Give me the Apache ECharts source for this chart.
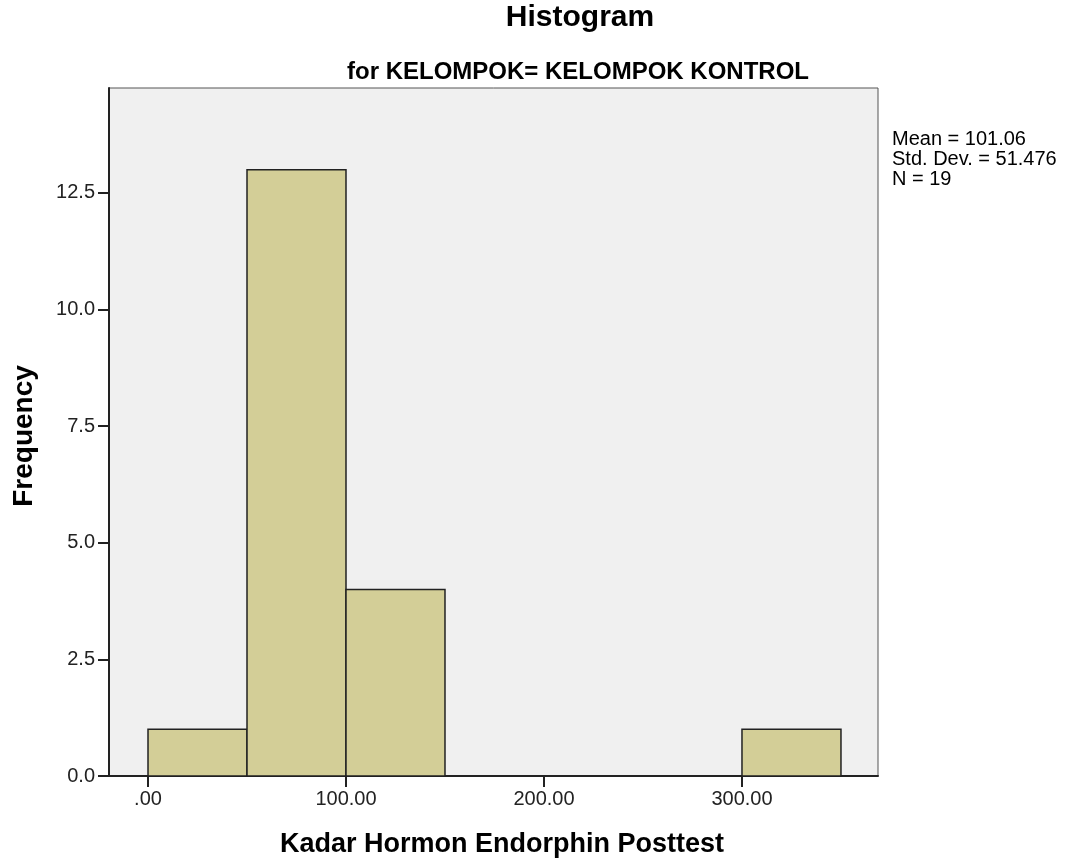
<!DOCTYPE html>
<html>
<head>
<meta charset="utf-8">
<script src="https://cdn.jsdelivr.net/npm/echarts@6/dist/echarts.min.js"></script>
<style>html,body{margin:0;padding:0;background:#fff}#c{width:1072px;height:861px}</style>
</head>
<body>
<div id="c"></div>
<script>
var binStarts = [0, 50, 100, 300];
var binEnds = [50, 100, 150, 350];
var frequencies = [1, 13, 4, 1];
var xTicks = [0, 100, 200, 300];
var yTicks = [0, 2.5, 5, 7.5, 10, 12.5];
var statsLines = ['Mean = 101.06', 'Std. Dev. = 51.476', 'N = 19'];
var titleText = 'Histogram';
var subtitleText = 'for KELOMPOK= KELOMPOK KONTROL';
var xName = 'Kadar Hormon Endorphin Posttest';
var yName = 'Frequency';

var data = binStarts.map(function (s, i) { return [s, binEnds[i], frequencies[i]]; });
var sans = '"Liberation Sans", Arial, sans-serif';

var chart = echarts.init(document.getElementById('c'));
chart.setOption({
  animation: false,
  backgroundColor: '#ffffff',
  graphic: [
    { type: 'text', x: 580, y: 18,
      style: { text: titleText, font: 'bold 30px ' + sans, fill: '#000', align: 'center', verticalAlign: 'middle' } },
    { type: 'text', x: 578, y: 72,
      style: { text: subtitleText, font: 'bold 24px ' + sans, fill: '#000', align: 'center', verticalAlign: 'middle' } },
    { type: 'text', x: 502, y: 845,
      style: { text: xName, font: 'bold 27px ' + sans, fill: '#000', align: 'center', verticalAlign: 'middle' } },
    { type: 'text', x: 24, y: 436, rotation: Math.PI / 2,
      style: { text: yName, font: 'bold 28px ' + sans, fill: '#000', align: 'center', verticalAlign: 'middle' } },
    { type: 'text', x: 892, y: 129,
      style: { text: statsLines.join('\n'), font: '20px ' + sans, fill: '#000', lineHeight: 20 } }
  ],
  grid: { left: 109, right: 194, top: 88, bottom: 85, show: true,
    backgroundColor: '#f0f0f0', borderColor: '#555', borderWidth: 1, containLabel: false },
  xAxis: {
    type: 'value', min: -19.7, max: 368.7,
    axisLine: { show: true, onZero: false, lineStyle: { color: '#222', width: 2 } },
    axisTick: { show: true, length: 11, customValues: xTicks, lineStyle: { color: '#222', width: 2 } },
    axisLabel: { customValues: xTicks, margin: 13, fontFamily: sans, fontSize: 20, color: '#222',
      formatter: function (v) { return v === 0 ? '.00' : v.toFixed(2); } },
    splitLine: { show: false }
  },
  yAxis: {
    type: 'value', min: 0, max: 14.75,
    axisLine: { show: true, onZero: false, lineStyle: { color: '#222', width: 2 } },
    axisTick: { show: true, length: 11, customValues: yTicks, lineStyle: { color: '#222', width: 2 } },
    axisLabel: { customValues: yTicks, margin: 14, fontFamily: sans, fontSize: 20, color: '#222',
      formatter: function (v) { return v.toFixed(1); } },
    splitLine: { show: false }
  },
  series: [{
    type: 'custom',
    data: data,
    encode: { x: [0, 1], y: 2 },
    renderItem: function (params, api) {
      var p0 = api.coord([api.value(0), api.value(2)]);
      var p1 = api.coord([api.value(1), 0]);
      return {
        type: 'rect',
        shape: { x: p0[0], y: p0[1], width: p1[0] - p0[0], height: p1[1] - p0[1] },
        style: { fill: '#d3ce97', stroke: '#222', lineWidth: 1.5 }
      };
    }
  }]
});
</script>
</body>
</html>
